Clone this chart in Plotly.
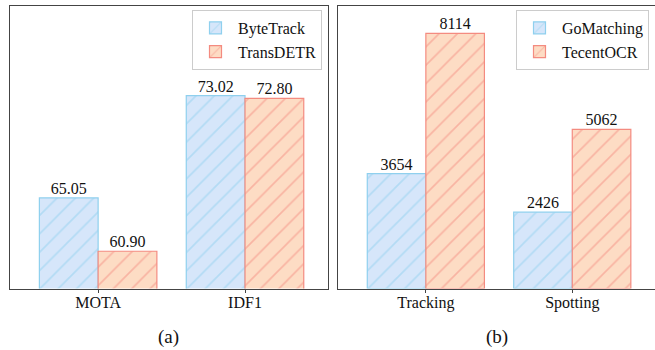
import plotly.graph_objects as go

# Panel (a)
cats_a = ["MOTA", "IDF1"]
bytetrack = [65.05, 73.02]
transdetr = [60.90, 72.80]

# Panel (b)
cats_b = ["Tracking", "Spotting"]
gomatching = [3654, 2426]
tecentocr = [8114, 5062]

panel_labels = ["(a)", "(b)"]

FONT = "Liberation Serif, Times New Roman, serif"
BLUE_BG, BLUE_FG = "#d6e6fa", "#8fd0ee"
ORNG_BG, ORNG_FG = "#fddcc4", "#f48b80"

W, H = 655, 350

def bar(name, x, y, bg, fg, xa, ya, leg):
    return go.Bar(
        name=name, x=x, y=y, xaxis=xa, yaxis=ya, legend=leg,
        width=0.4, offsetgroup=name,
        marker=dict(color=bg, line=dict(color=fg, width=1.2),
                    pattern=dict(shape="/", fgcolor=fg, bgcolor=bg, size=13, solidity=0.13)),
        hoverinfo="skip",
    )

def labels(name, x, y, xa, ya, fmt):
    return go.Scatter(
        x=x, y=y, xaxis=xa, yaxis=ya, mode="text", offsetgroup=name,
        text=[fmt.format(v) for v in y], textposition="top center",
        marker=dict(size=0),
        textfont=dict(family=FONT, size=16, color="#111111"),
        cliponaxis=False, showlegend=False, hoverinfo="skip",
    )

fig = go.Figure()
fig.add_trace(bar("ByteTrack", cats_a, bytetrack, BLUE_BG, BLUE_FG, "x", "y", "legend"))
fig.add_trace(bar("TransDETR", cats_a, transdetr, ORNG_BG, ORNG_FG, "x", "y", "legend"))
fig.add_trace(bar("GoMatching", cats_b, gomatching, BLUE_BG, BLUE_FG, "x2", "y2", "legend2"))
fig.add_trace(bar("TecentOCR", cats_b, tecentocr, ORNG_BG, ORNG_FG, "x2", "y2", "legend2"))
fig.add_trace(labels("ByteTrack", cats_a, bytetrack, "x", "y", "{:.2f}"))
fig.add_trace(labels("TransDETR", cats_a, transdetr, "x", "y", "{:.2f}"))
fig.add_trace(labels("GoMatching", cats_b, gomatching, "x2", "y2", "{}"))
fig.add_trace(labels("TecentOCR", cats_b, tecentocr, "x2", "y2", "{}"))

ydom = [1 - 288.5 / H, 1 - 6 / H]
axcol = "#444444"
common_x = dict(showline=True, linecolor=axcol, linewidth=1.2, ticks="outside", ticklen=3,
                tickcolor=axcol, showgrid=False, zeroline=False, range=[-0.6, 1.565],
                ticklabelstandoff=-4,
                tickfont=dict(family=FONT, size=16, color="#111111"))
common_y = dict(showline=True, linecolor=axcol, linewidth=1.2, showgrid=False, zeroline=False,
                showticklabels=False, ticks="")

leg_common = dict(xanchor="right", y=1 - 10 / H, yanchor="top",
                  bordercolor="#cccccc", borderwidth=1, bgcolor="white",
                  font=dict(family=FONT, size=16, color="#111111"), itemwidth=35,
                  tracegroupgap=0)

fig.update_layout(
    width=W, height=H,
    margin=dict(l=0, r=0, t=0, b=0),
    plot_bgcolor="white", paper_bgcolor="white",
    barmode="group", bargap=0.2, bargroupgap=0,
    scattermode="group", scattergap=0.2,
    xaxis=dict(domain=[10 / W, 328 / W], anchor="y", mirror=True, **common_x),
    yaxis=dict(domain=ydom, anchor="x", range=[58, 80], mirror=True, **common_y),
    xaxis2=dict(domain=[338 / W, 1.0], anchor="y2", mirror=True, **common_x),
    yaxis2=dict(domain=ydom, anchor="x2", range=[0, 8985], mirror=False, **common_y),
    legend=dict(x=322 / W, **leg_common),
    legend2=dict(x=649 / W, **leg_common),
    showlegend=True,
)

centers = [(10 + 328) / 2 / W, (338 + 655) / 2 / W]
for lbl, cx in zip(panel_labels, centers):
    fig.add_annotation(text=lbl, x=cx, y=1 - 337 / H, xref="paper", yref="paper",
                       showarrow=False, font=dict(family=FONT, size=19, color="#111111"),
                       xanchor="center", yanchor="middle")

fig.write_html("out.html", config={"displayModeBar": False},
               post_script="document.body.style.margin='0';document.body.style.overflow='hidden';")
